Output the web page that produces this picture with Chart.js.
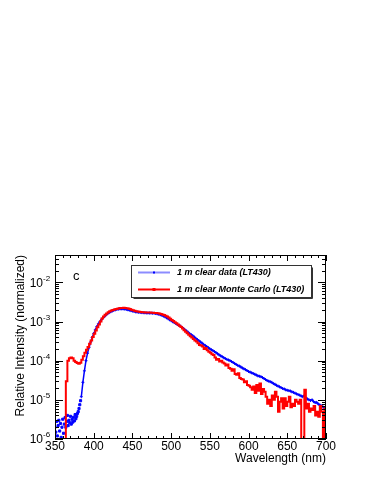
<!DOCTYPE html>
<html>
<head>
<meta charset="utf-8">
<script src="https://cdn.jsdelivr.net/npm/chart.js@4.4.1/dist/chart.umd.min.js"></script>
<style>
  body { margin: 0; background: #fff; }
  #wrap { width: 374px; height: 484px; }
</style>
</head>
<body>
<div id="wrap"><canvas id="spectrum" width="374" height="484"></canvas></div>
<script>
// Wavelength grids (nm)
function range(a, b, step) {
    const out = [];
    for (let v = a; v <= b; v += step) out.push(v);
    return out;
}
const blueLowNm = range(350, 384, 1);
const blueNm = range(386, 700, 2);
const redNm = range(350, 700, 2);

// 1 m clear data (LT430) - low region, scattered points
const blueLow = [
    2.0e-6, 1.5e-6, 2.8e-6, 1.2e-6, 2.2e-6, 3.0e-6, 1.6e-6, 2.5e-6, 1.1e-6, 2.0e-6,
    3.2e-6, 1.4e-6, 2.4e-6, 3.5e-6, 2.0e-6, 2.8e-6, 4.0e-6, 2.2e-6, 3.0e-6, 2.6e-6,
    3.8e-6, 2.4e-6, 3.2e-6, 2.7e-6, 3.6e-6, 2.9e-6, 4.2e-6, 3.3e-6, 3.8e-6, 4.5e-6,
    5.0e-6, 6.0e-6, 7.5e-6, 9.5e-6, 1.2e-5
];
// 1 m clear data (LT430) - 386..700 nm
const blueVal = [
    2.8e-5, 5.5e-5, 1.0e-4, 1.55e-4, 2.2e-4, 3.0e-4, 3.9e-4, 4.9e-4, 6.1e-4, 7.4e-4,
    8.7e-4, 9.9e-4, 1.11e-3, 1.24e-3, 1.36e-3, 1.48e-3, 1.59e-3, 1.69e-3, 1.78e-3, 1.86e-3,
    1.93e-3, 1.99e-3, 2.04e-3, 2.08e-3, 2.1e-3, 2.11e-3, 2.1e-3, 2.08e-3, 2.04e-3, 2.0e-3,
    1.95e-3, 1.9e-3, 1.85e-3, 1.81e-3, 1.77e-3, 1.74e-3, 1.72e-3, 1.7e-3, 1.69e-3, 1.68e-3,
    1.67e-3, 1.66e-3, 1.65e-3, 1.65e-3, 1.64e-3, 1.63e-3, 1.62e-3, 1.6e-3, 1.57e-3, 1.53e-3,
    1.49e-3, 1.44e-3, 1.38e-3, 1.32e-3, 1.25e-3, 1.18e-3, 1.11e-3, 1.05e-3, 9.9e-4, 9.4e-4,
    8.9e-4, 8.4e-4, 8.0e-4, 7.6e-4, 7.1e-4, 6.6e-4, 6.1e-4, 5.7e-4, 5.3e-4, 4.9e-4,
    4.6e-4, 4.3e-4, 4.0e-4, 3.7e-4, 3.45e-4, 3.2e-4, 3.0e-4, 2.8e-4, 2.6e-4, 2.45e-4,
    2.3e-4, 2.15e-4, 2.0e-4, 1.9e-4, 1.8e-4, 1.7e-4, 1.6e-4, 1.5e-4, 1.4e-4, 1.33e-4,
    1.26e-4, 1.19e-4, 1.13e-4, 1.08e-4, 1.04e-4, 1.0e-4, 9.5e-5, 9.0e-5, 8.5e-5, 8.0e-5,
    7.6e-5, 7.3e-5, 6.9e-5, 6.5e-5, 6.2e-5, 5.9e-5, 5.6e-5, 5.3e-5, 5.1e-5, 4.9e-5,
    4.7e-5, 4.5e-5, 4.3e-5, 4.1e-5, 4.0e-5, 3.9e-5, 3.7e-5, 3.5e-5, 3.3e-5, 3.1e-5,
    3.0e-5, 2.9e-5, 2.8e-5, 2.6e-5, 2.5e-5, 2.35e-5, 2.25e-5, 2.15e-5, 2.05e-5, 1.95e-5,
    1.9e-5, 1.8e-5, 1.75e-5, 1.72e-5, 1.68e-5, 1.6e-5, 1.55e-5, 1.48e-5, 1.42e-5, 1.36e-5,
    1.32e-5, 1.25e-5, 1.2e-5, 1.3e-5, 1.12e-5, 1.05e-5, 1.0e-5, 9.6e-6, 1.0e-5, 9.0e-6,
    8.5e-6, 8.6e-6, 7.8e-6, 7.4e-6, 7.0e-6, 6.6e-6, 6.2e-6, 6.0e-6
];
// 1 m clear Monte Carlo (LT430) - 2 nm bins, left edges 350..700
const redVal = [
    1e-6, 1e-6, 1e-6, 1e-6, 1e-6, 1e-6, 1e-6, 3e-5, 1.0e-4, 1.15e-4,
    1.2e-4, 1.15e-4, 1.0e-4, 9.3e-5, 8.7e-5, 8.4e-5, 8.8e-5, 1.05e-4, 1.3e-4, 1.6e-4,
    1.9e-4, 2.25e-4, 2.7e-4, 3.3e-4, 4.0e-4, 4.9e-4, 5.9e-4, 7.1e-4, 8.4e-4, 1.0e-3,
    1.2e-3, 1.35e-3, 1.48e-3, 1.6e-3, 1.72e-3, 1.82e-3, 1.9e-3, 1.97e-3, 2.03e-3, 2.08e-3,
    2.13e-3, 2.17e-3, 2.2e-3, 2.23e-3, 2.24e-3, 2.22e-3, 2.19e-3, 2.14e-3, 2.08e-3, 2.01e-3,
    1.95e-3, 1.89e-3, 1.84e-3, 1.8e-3, 1.77e-3, 1.75e-3, 1.73e-3, 1.72e-3, 1.71e-3, 1.7e-3,
    1.69e-3, 1.69e-3, 1.68e-3, 1.67e-3, 1.66e-3, 1.65e-3, 1.63e-3, 1.6e-3, 1.56e-3, 1.52e-3,
    1.47e-3, 1.41e-3, 1.34e-3, 1.26e-3, 1.18e-3, 1.1e-3, 1.03e-3, 9.6e-4, 9.0e-4, 8.4e-4,
    7.8e-4, 7.2e-4, 6.6e-4, 6.0e-4, 5.5e-4, 5.0e-4, 4.6e-4, 4.2e-4, 3.9e-4, 3.6e-4,
    3.3e-4, 3.1e-4, 2.8e-4, 2.5e-4, 2.45e-4, 2.3e-4, 2.0e-4, 2.1e-4, 1.85e-4, 1.7e-4,
    1.6e-4, 1.45e-4, 1.4e-4, 1.2e-4, 1.05e-4, 1.1e-4, 9.5e-5, 1.0e-4, 9.0e-5, 8.5e-5,
    7.5e-5, 8.0e-5, 6.5e-5, 6.2e-5, 5.5e-5, 6.0e-5, 4.6e-5, 4.4e-5, 4.8e-5, 3.6e-5,
    3.4e-5, 3.3e-5, 2.8e-5, 3.0e-5, 2.4e-5, 2.3e-5, 2.1e-5, 1.8e-5, 2.2e-5, 1.5e-5,
    2.4e-5, 1.7e-5, 2.6e-5, 1.4e-5, 1.9e-5, 1.6e-5, 1.2e-5, 8e-6, 1.0e-5, 7e-6,
    1.3e-5, 1.0e-5, 1.6e-5, 1.2e-5, 5e-6, 9e-6, 1.1e-5, 6e-6, 1.1e-5, 7e-6,
    9e-6, 1.2e-5, 6.5e-6, 8e-6, 7e-6, 1.0e-5, 9e-6, 8e-6, 1.0e-5, 1e-6,
    1e-6, 1.8e-5, 6e-6, 8e-6, 5e-6, 6e-6, 5.5e-6, 7e-6, 4e-6, 5e-6,
    3.7e-6, 7e-6, 5e-6, 1e-6, 6e-6, 6e-6
];

// Axis ticks
const xMajor = [350, 400, 450, 500, 550, 600, 650, 700];
const yDecades = [-6, -5, -4, -3, -2];

const BLUE = '#0000ff';
const RED = '#ff0000';
const FONT = '"Liberation Sans", Arial, sans-serif';

const bluePts = blueLowNm.map((x, i) => ({ x, y: blueLow[i] }))
    .concat(blueNm.map((x, i) => ({ x, y: blueVal[i] })));
const redPts = redNm.map((x, i) => ({ x, y: redVal[i] }));

// ROOT-like frame, inward ticks, labels and legend
const rootFrame = {
    id: 'rootFrame',
    afterDraw(chart) {
        const { ctx, chartArea: a, scales: { x, y } } = chart;
        ctx.save();
        ctx.strokeStyle = '#000';
        ctx.lineWidth = 1;
        ctx.strokeRect(a.left + 0.5, a.top + 0.5, a.right - a.left - 1, a.bottom - a.top - 1);

        ctx.beginPath();
        for (let v = 350; v <= 700; v += 10) {
            const px = Math.round(x.getPixelForValue(v)) + 0.5;
            const len = v % 50 === 0 ? 6 : 3;
            ctx.moveTo(px, a.bottom); ctx.lineTo(px, a.bottom - len);
            ctx.moveTo(px, a.top); ctx.lineTo(px, a.top + len);
        }
        yDecades.concat([-1]).forEach(e => {
            for (let m = 1; m <= 9; m++) {
                const v = m * Math.pow(10, e);
                if (v < y.min || v > y.max) continue;
                const py = Math.round(y.getPixelForValue(v)) + 0.5;
                const len = m === 1 ? 8 : 4;
                ctx.moveTo(a.left, py); ctx.lineTo(a.left + len, py);
                ctx.moveTo(a.right, py); ctx.lineTo(a.right - len, py);
            }
        });
        ctx.stroke();

        ctx.fillStyle = '#000';
        ctx.font = '12px ' + FONT;
        ctx.textAlign = 'center';
        ctx.textBaseline = 'top';
        xMajor.forEach(v => ctx.fillText(String(v), x.getPixelForValue(v), a.bottom + 2));

        yDecades.forEach(e => {
            const py = y.getPixelForValue(Math.pow(10, e));
            ctx.font = '12px ' + FONT;
            ctx.textAlign = 'right';
            ctx.textBaseline = 'middle';
            ctx.fillText('10', a.left - 12, py + 1);
            ctx.font = '8px ' + FONT;
            ctx.textAlign = 'left';
            ctx.fillText(String(e), a.left - 12, py - 4);
        });

        // axis titles
        ctx.font = '12px ' + FONT;
        ctx.textAlign = 'right';
        ctx.textBaseline = 'middle';
        ctx.fillText('Wavelength (nm)', a.right, a.bottom + 20);
        ctx.save();
        ctx.translate(21, a.top);
        ctx.rotate(-Math.PI / 2);
        ctx.fillText('Relative Intensity (normalized)', 0, 0);
        ctx.restore();

        ctx.font = '13px ' + FONT;
        ctx.textAlign = 'left';
        ctx.fillText('c', 73, 276);

        // legend box
        const lx = 131.5, ly = 265.5, lw = 180, lh = 32;
        ctx.fillStyle = '#fff';
        ctx.fillRect(lx, ly, lw, lh);
        ctx.strokeStyle = '#333';
        ctx.strokeRect(lx, ly, lw, lh);
        ctx.beginPath();
        ctx.moveTo(lx + lw + 1, ly + 2); ctx.lineTo(lx + lw + 1, ly + lh + 1); ctx.lineTo(lx + 2, ly + lh + 1);
        ctx.stroke();

        const rows = [
            { y: 272.5, color: 'rgba(0,0,255,0.45)', text: '1 m clear data (LT430)', mark: BLUE, size: 2 },
            { y: 289.5, color: RED, text: '1 m clear Monte Carlo (LT430)', mark: RED, size: 3 }
        ];
        rows.forEach(r => {
            ctx.strokeStyle = r.color;
            ctx.lineWidth = 2;
            ctx.beginPath();
            ctx.moveTo(138, r.y); ctx.lineTo(170, r.y);
            ctx.stroke();
            ctx.fillStyle = r.mark;
            ctx.fillRect(154 - r.size / 2, r.y - r.size / 2, r.size, r.size);
            ctx.fillStyle = '#000';
            ctx.font = 'italic bold 9px ' + FONT;
            ctx.textAlign = 'left';
            ctx.textBaseline = 'middle';
            ctx.fillText(r.text, 177, r.y);
        });
        ctx.restore();
    }
};

new Chart(document.getElementById('spectrum').getContext('2d'), {
    type: 'line',
    data: {
        datasets: [
            {
                label: '1 m clear Monte Carlo (LT430)',
                data: redPts,
                borderColor: RED,
                borderWidth: 2,
                stepped: 'before',
                pointRadius: 0,
                order: 0
            },
            {
                label: '1 m clear data (LT430)',
                data: bluePts,
                borderColor: BLUE,
                backgroundColor: BLUE,
                borderWidth: 1.5,
                pointStyle: c => (c.raw && c.raw.x < 384 ? 'rect' : 'cross'),
                pointRadius: 1.5,
                pointBorderWidth: 1,
                segment: { borderColor: c => (c.p0.parsed.x < 384 ? 'rgba(0,0,0,0)' : BLUE) },
                order: 1
            }
        ]
    },
    options: {
        responsive: false,
        animation: false,
        layout: { padding: { left: 55, right: 48, top: 255, bottom: 45 } },
        plugins: { legend: { display: false }, tooltip: { enabled: false } },
        scales: {
            x: { type: 'linear', min: 350, max: 700, display: false },
            y: { type: 'logarithmic', min: 1e-6, max: 0.05, display: false }
        }
    },
    plugins: [rootFrame]
});
</script>
</body>
</html>
